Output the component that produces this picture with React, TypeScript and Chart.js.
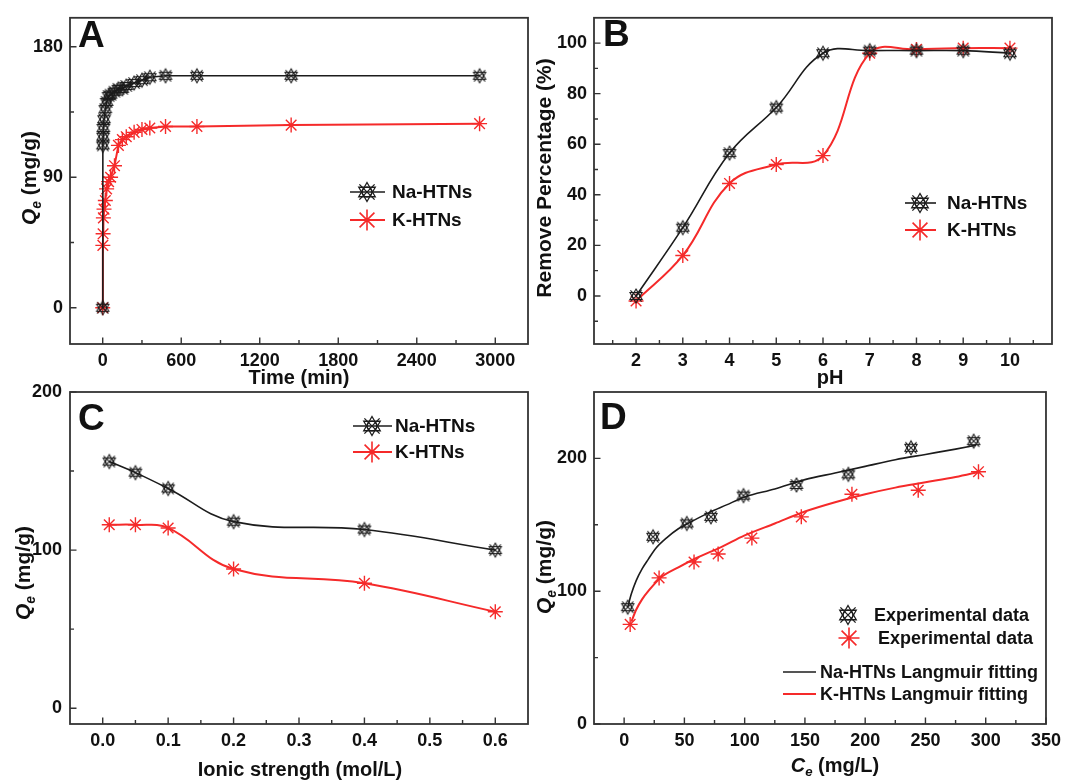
import React, { useEffect, useRef } from "react";
import { Chart, registerables } from "chart.js";
Chart.register(...registerables);

const W = 1067;
const H = 781;
const FONT = '"Liberation Sans", Arial, Helvetica, sans-serif';
const BLACK = "#1c1c1c";
const RED = "#f52a2a";
const AXIS = "#333333";

// ---------- Panel A: kinetics ----------
const timeMin = [0, 1, 3, 5, 10, 20, 30, 45, 60, 90, 120, 150, 180, 240, 300, 360, 480, 720, 1440, 2880];
const naTimeQe = [0, 112, 118, 124, 130, 137, 142, 146, 147, 149, 151, 151, 153, 155, 157, 159, 160, 160, 160, 160];
const kTimeQe = [0, 43, 51, 62, 68, 74, 82, 87, 90, 98, 112, 116, 118, 121, 123, 124, 125, 125, 126, 127];
const timeTicks = [0, 600, 1200, 1800, 2400, 3000];
const timeTickLabels = ["0", "600", "1200", "1800", "2400", "3000"];
const timeMinorTicks = [300, 900, 1500, 2100, 2700];
const qeTicksA = [0, 90, 180];
const qeTickLabelsA = ["0", "90", "180"];
const qeMinorA = [45, 135];

// ---------- Panel B: pH ----------
const pH = [2, 3, 4, 5, 6, 7, 8, 9, 10];
const naRemove = [0, 27, 56.5, 74.5, 96, 97, 97, 97, 96];
const kRemove = [-2, 16, 44.5, 52, 55.5, 96, 97.5, 98, 98];
const pHTicks = [2, 3, 4, 5, 6, 7, 8, 9, 10];
const pHTickLabels = ["2", "3", "4", "5", "6", "7", "8", "9", "10"];
const pHMinor = [1.5, 2.5, 3.5, 4.5, 5.5, 6.5, 7.5, 8.5, 9.5, 10.5];
const removeTicks = [0, 20, 40, 60, 80, 100];
const removeTickLabels = ["0", "20", "40", "60", "80", "100"];
const removeMinor = [-10, 10, 30, 50, 70, 90];

// ---------- Panel C: ionic strength ----------
const ionic = [0.01, 0.05, 0.1, 0.2, 0.4, 0.6];
const naIonicQe = [156, 149, 139, 118, 113, 100];
const kIonicQe = [116, 116, 114, 88, 79, 61];
const ionicTicks = [0, 0.1, 0.2, 0.3, 0.4, 0.5, 0.6];
const ionicTickLabels = ["0.0", "0.1", "0.2", "0.3", "0.4", "0.5", "0.6"];
const ionicMinor = [0.05, 0.15, 0.25, 0.35, 0.45, 0.55];
const qeTicksC = [0, 100, 200];
const qeTickLabelsC = ["0", "100", "200"];
const qeMinorC = [50, 150];

// ---------- Panel D: isotherms ----------
const naCe = [3, 24, 52, 72, 99, 143, 186, 238, 290];
const naQe = [88, 141, 151, 156, 172, 180, 188, 208, 213];
const kCe = [5, 29, 58, 78, 106, 147, 189, 244, 294];
const kQe = [75, 110, 122, 128, 140, 156, 173, 176, 190];
const naFitCe = [3, 6, 10, 15, 20, 26, 35, 45, 55, 70, 85, 100, 125, 150, 175, 200, 225, 250, 275, 292];
const naFitQe = [88, 98, 108, 117, 124, 132, 140, 147, 152, 159, 165, 171, 177, 184, 189, 194, 199, 203, 207, 210];
const kFitCe = [6, 10, 15, 20, 30, 45, 60, 80, 100, 125, 150, 175, 200, 225, 250, 275, 295];
const kFitQe = [77, 86, 94, 100, 110, 118, 125, 133, 142, 151, 160, 167, 173, 178, 182, 186, 190];
const ceTicks = [0, 50, 100, 150, 200, 250, 300, 350];
const ceTickLabels = ["0", "50", "100", "150", "200", "250", "300", "350"];
const ceMinor = [25, 75, 125, 175, 225, 275, 325];
const qeTicksD = [0, 100, 200];
const qeTickLabelsD = ["0", "100", "200"];
const qeMinorD = [50, 150];

type Seg = { t: string; it?: boolean; sub?: boolean };
type LegendRow = {
  color: string;
  marker?: "na" | "k";
  line?: [number, number];
  mx?: number;
  y: number;
  tx: number;
  text: string;
};
type AxisSpec = {
  min: number;
  max: number;
  major: number[];
  labels: string[];
  minor: number[];
  pad: number;
};
type PanelSpec = {
  area: { l: number; t: number; r: number; b: number };
  x: AxisSpec;
  y: AxisSpec;
  datasets: any[];
  letter: { t: string; x: number; y: number };
  xTitle: { segs: Seg[]; cx: number; base: number };
  yTitle: { segs: Seg[]; cy: number; base: number };
  legend: LegendRow[];
  legendFont: number;
};

function zip(xs: number[], ys: number[]) {
  return xs.map((x, i) => ({ x, y: ys[i] }));
}

function drawNa(g: CanvasRenderingContext2D, cx: number, cy: number, s: number, color: string, lw: number) {
  g.save();
  g.strokeStyle = color;
  g.lineWidth = lw;
  g.beginPath();
  g.arc(cx, cy, s * 0.52, 0, Math.PI * 2);
  g.stroke();
  g.beginPath();
  g.moveTo(cx, cy - s);
  g.lineTo(cx + 0.87 * s, cy + 0.5 * s);
  g.lineTo(cx - 0.87 * s, cy + 0.5 * s);
  g.closePath();
  g.stroke();
  g.beginPath();
  g.moveTo(cx, cy + s);
  g.lineTo(cx + 0.87 * s, cy - 0.5 * s);
  g.lineTo(cx - 0.87 * s, cy - 0.5 * s);
  g.closePath();
  g.stroke();
  g.beginPath();
  g.moveTo(cx - 0.8 * s, cy - 0.8 * s);
  g.lineTo(cx + 0.8 * s, cy + 0.8 * s);
  g.moveTo(cx + 0.8 * s, cy - 0.8 * s);
  g.lineTo(cx - 0.8 * s, cy + 0.8 * s);
  g.stroke();
  g.restore();
}

function drawStar(g: CanvasRenderingContext2D, cx: number, cy: number, r: number, color: string, lw: number) {
  g.save();
  g.strokeStyle = color;
  g.lineWidth = lw;
  g.beginPath();
  for (let k = 0; k < 4; k++) {
    const a = (k * Math.PI) / 4;
    g.moveTo(cx - r * Math.cos(a), cy - r * Math.sin(a));
    g.lineTo(cx + r * Math.cos(a), cy + r * Math.sin(a));
  }
  g.stroke();
  g.restore();
}

function naImage(size: number, color: string, lw: number) {
  const c = document.createElement("canvas");
  c.width = size + 4;
  c.height = size + 4;
  const g = c.getContext("2d")!;
  drawNa(g, c.width / 2, c.height / 2, size / 2, color, lw);
  return c;
}

function richWidth(ctx: CanvasRenderingContext2D, segs: Seg[], size: number) {
  let w = 0;
  for (const s of segs) {
    ctx.font = `${s.it ? "italic " : ""}bold ${s.sub ? size * 0.66 : size}px ${FONT}`;
    w += ctx.measureText(s.t).width;
  }
  return w;
}

function drawRichAt(ctx: CanvasRenderingContext2D, segs: Seg[], size: number, x0: number, base: number) {
  let x = x0;
  for (const s of segs) {
    ctx.font = `${s.it ? "italic " : ""}bold ${s.sub ? size * 0.66 : size}px ${FONT}`;
    ctx.fillText(s.t, x, s.sub ? base + size * 0.22 : base);
    x += ctx.measureText(s.t).width;
  }
}

function drawDecor(chart: any, sp: PanelSpec) {
  const ctx: CanvasRenderingContext2D = chart.ctx;
  const a = chart.chartArea;
  const xs = chart.scales.x;
  const ys = chart.scales.y;
  ctx.save();
  ctx.strokeStyle = AXIS;
  ctx.lineWidth = 1.8;
  ctx.strokeRect(a.left, a.top, a.right - a.left, a.bottom - a.top);
  ctx.lineWidth = 1.4;
  ctx.beginPath();
  const xt = (vals: number[], len: number) => {
    for (const v of vals) {
      const p = xs.getPixelForValue(v);
      if (p < a.left || p > a.right) continue;
      ctx.moveTo(p, a.bottom);
      ctx.lineTo(p, a.bottom - len);
    }
  };
  const yt = (vals: number[], len: number) => {
    for (const v of vals) {
      const p = ys.getPixelForValue(v);
      if (p < a.top || p > a.bottom) continue;
      ctx.moveTo(a.left, p);
      ctx.lineTo(a.left + len, p);
    }
  };
  xt(sp.x.major, 6.5);
  xt(sp.x.minor, 4);
  yt(sp.y.major, 6.5);
  yt(sp.y.minor, 4);
  ctx.stroke();

  ctx.fillStyle = "#111";
  ctx.textBaseline = "alphabetic";
  ctx.textAlign = "left";
  ctx.font = `bold 37px ${FONT}`;
  ctx.fillText(sp.letter.t, sp.letter.x, sp.letter.y);

  const tsize = 20;
  const xw = richWidth(ctx, sp.xTitle.segs, tsize);
  drawRichAt(ctx, sp.xTitle.segs, tsize, sp.xTitle.cx - xw / 2, sp.xTitle.base);

  const ysize = 21;
  const yw = richWidth(ctx, sp.yTitle.segs, ysize);
  ctx.save();
  ctx.translate(sp.yTitle.base, sp.yTitle.cy);
  ctx.rotate(-Math.PI / 2);
  drawRichAt(ctx, sp.yTitle.segs, ysize, -yw / 2, 0);
  ctx.restore();

  for (const row of sp.legend) {
    if (row.line) {
      ctx.strokeStyle = row.color;
      ctx.lineWidth = row.color === RED ? 2 : 1.6;
      ctx.beginPath();
      ctx.moveTo(row.line[0], row.y);
      ctx.lineTo(row.line[1], row.y);
      ctx.stroke();
    }
    if (row.marker === "na") drawNa(ctx, row.mx!, row.y, 9.5, row.color, 1.3);
    if (row.marker === "k") drawStar(ctx, row.mx!, row.y, 10.5, row.color, 1.6);
    ctx.fillStyle = "#111";
    ctx.textBaseline = "middle";
    ctx.textAlign = "left";
    ctx.font = `bold ${sp.legendFont}px ${FONT}`;
    ctx.fillText(row.text, row.tx, row.y + 1);
  }
  ctx.restore();
}

const YW = 60;
const XH = 40;

function makeConfig(sp: PanelSpec): any {
  const axis = (ax: AxisSpec, horizontal: boolean) => ({
    type: "linear",
    position: horizontal ? "bottom" : "left",
    min: ax.min,
    max: ax.max,
    grid: { display: false, drawTicks: false },
    border: { display: false },
    ticks: {
      autoSkip: false,
      maxRotation: 0,
      minRotation: 0,
      padding: ax.pad,
      color: "#111",
      font: { family: FONT, size: 18, weight: "bold" },
      callback: (_v: any, i: number) => ax.labels[i] ?? "",
    },
    afterBuildTicks: (s: any) => {
      s.ticks = ax.major.map((v) => ({ value: v }));
    },
    afterFit: (s: any) => {
      if (horizontal) s.height = XH;
      else s.width = YW;
    },
  });
  return {
    type: "line",
    data: { datasets: sp.datasets },
    options: {
      responsive: false,
      animation: false,
      devicePixelRatio: 1,
      events: [],
      layout: {
        autoPadding: false,
        padding: {
          left: sp.area.l - YW,
          top: sp.area.t,
          right: W - sp.area.r,
          bottom: H - sp.area.b - XH,
        },
      },
      plugins: { legend: { display: false }, tooltip: { enabled: false } },
      scales: { x: axis(sp.x, true), y: axis(sp.y, false) },
    },
    plugins: [{ id: "decor", afterDraw: (chart: any) => drawDecor(chart, sp) }],
  };
}

const qeTitle: Seg[] = [{ t: "Q", it: true }, { t: "e", it: true, sub: true }, { t: " (mg/g)" }];

function buildSpecs(): PanelSpec[] {
  const naImg = naImage(14, BLACK, 1.1);
  const naPts = (data: any) => ({
    data,
    borderColor: BLACK,
    backgroundColor: BLACK,
    borderWidth: 1.6,
    pointStyle: naImg,
    pointRadius: 7,
    fill: false,
  });
  const kPts = (data: any) => ({
    data,
    borderColor: RED,
    backgroundColor: RED,
    borderWidth: 2,
    pointStyle: "star",
    pointRadius: 7.5,
    pointBorderColor: RED,
    pointBorderWidth: 1.4,
    fill: false,
  });

  const A: PanelSpec = {
    area: { l: 70, t: 13, r: 528, b: 344 },
    x: { min: -250, max: 3250, major: timeTicks, labels: timeTickLabels, minor: timeMinorTicks, pad: 6 },
    y: { min: -25, max: 200, major: qeTicksA, labels: qeTickLabelsA, minor: qeMinorA, pad: 7 },
    datasets: [
      { ...naPts(zip(timeMin, naTimeQe)), tension: 0 },
      { ...kPts(zip(timeMin, kTimeQe)), tension: 0 },
    ],
    letter: { t: "A", x: 78, y: 47 },
    xTitle: { segs: [{ t: "Time (min)" }], cx: 299, base: 384 },
    yTitle: { segs: qeTitle, cy: 178, base: 36 },
    legend: [
      { color: BLACK, marker: "na", line: [350, 385], mx: 367, y: 192, tx: 392, text: "Na-HTNs" },
      { color: RED, marker: "k", line: [350, 385], mx: 367, y: 220, tx: 392, text: "K-HTNs" },
    ],
    legendFont: 19,
  };

  const B: PanelSpec = {
    area: { l: 594, t: 13, r: 1052, b: 344 },
    x: { min: 1.1, max: 10.9, major: pHTicks, labels: pHTickLabels, minor: pHMinor, pad: 6 },
    y: { min: -19, max: 110, major: removeTicks, labels: removeTickLabels, minor: removeMinor, pad: 7 },
    datasets: [
      { ...naPts(zip(pH, naRemove)), tension: 0.4 },
      { ...kPts(zip(pH, kRemove)), tension: 0.4 },
    ],
    letter: { t: "B", x: 603, y: 46 },
    xTitle: { segs: [{ t: "pH" }], cx: 830, base: 384 },
    yTitle: { segs: [{ t: "Remove Percentage (%)" }], cy: 178, base: 551 },
    legend: [
      { color: BLACK, marker: "na", line: [905, 936], mx: 920, y: 203, tx: 947, text: "Na-HTNs" },
      { color: RED, marker: "k", line: [905, 936], mx: 920, y: 230, tx: 947, text: "K-HTNs" },
    ],
    legendFont: 19,
  };

  const C: PanelSpec = {
    area: { l: 70, t: 392, r: 528, b: 724 },
    x: { min: -0.05, max: 0.65, major: ionicTicks, labels: ionicTickLabels, minor: ionicMinor, pad: 6 },
    y: { min: -10, max: 200, major: qeTicksC, labels: qeTickLabelsC, minor: qeMinorC, pad: 8 },
    datasets: [
      { ...naPts(zip(ionic, naIonicQe)), tension: 0.4 },
      { ...kPts(zip(ionic, kIonicQe)), tension: 0.4 },
    ],
    letter: { t: "C", x: 78, y: 430 },
    xTitle: { segs: [{ t: "Ionic strength (mol/L)" }], cx: 300, base: 776 },
    yTitle: { segs: qeTitle, cy: 573, base: 30 },
    legend: [
      { color: BLACK, marker: "na", line: [353, 392], mx: 372, y: 426, tx: 395, text: "Na-HTNs" },
      { color: RED, marker: "k", line: [353, 392], mx: 372, y: 452, tx: 395, text: "K-HTNs" },
    ],
    legendFont: 19,
  };

  const D: PanelSpec = {
    area: { l: 594, t: 392, r: 1053, b: 724 },
    x: { min: -25, max: 350, major: ceTicks, labels: ceTickLabels, minor: ceMinor, pad: 6 },
    y: { min: 0, max: 250, major: qeTicksD, labels: qeTickLabelsD, minor: qeMinorD, pad: 7 },
    datasets: [
      { ...naPts(zip(naCe, naQe)), showLine: false },
      { ...kPts(zip(kCe, kQe)), showLine: false },
      {
        data: zip(naFitCe, naFitQe),
        borderColor: BLACK,
        borderWidth: 1.6,
        pointRadius: 0,
        cubicInterpolationMode: "monotone",
        fill: false,
      },
      {
        data: zip(kFitCe, kFitQe),
        borderColor: RED,
        borderWidth: 2,
        pointRadius: 0,
        cubicInterpolationMode: "monotone",
        fill: false,
      },
    ],
    letter: { t: "D", x: 600, y: 429 },
    xTitle: {
      segs: [{ t: "C", it: true }, { t: "e", it: true, sub: true }, { t: " (mg/L)" }],
      cx: 835,
      base: 772,
    },
    yTitle: { segs: qeTitle, cy: 567, base: 551 },
    legend: [
      { color: BLACK, marker: "na", mx: 848, y: 615, tx: 874, text: "Experimental data" },
      { color: RED, marker: "k", mx: 849, y: 638, tx: 878, text: "Experimental data" },
      { color: BLACK, line: [783, 816], y: 672, tx: 820, text: "Na-HTNs Langmuir fitting" },
      { color: RED, line: [783, 816], y: 694, tx: 820, text: "K-HTNs Langmuir fitting" },
    ],
    legendFont: 18,
  };
  return [A, B, C, D];
}

export default function App() {
  const refs = [useRef<HTMLCanvasElement>(null), useRef<HTMLCanvasElement>(null), useRef<HTMLCanvasElement>(null), useRef<HTMLCanvasElement>(null)];
  useEffect(() => {
    const specs = buildSpecs();
    const charts = specs.map((sp, i) => new Chart(refs[i].current!, makeConfig(sp)));
    return () => charts.forEach((c) => c.destroy());
  }, []);
  return (
    <div style={{ position: "absolute", left: 0, top: 0, width: W, height: H, background: "#fff", overflow: "hidden" }}>
      {refs.map((r, i) => (
        <canvas
          key={i}
          ref={r}
          width={W}
          height={H}
          style={{ position: "absolute", left: 0, top: 0, width: W, height: H, display: "block" }}
        />
      ))}
    </div>
  );
}
